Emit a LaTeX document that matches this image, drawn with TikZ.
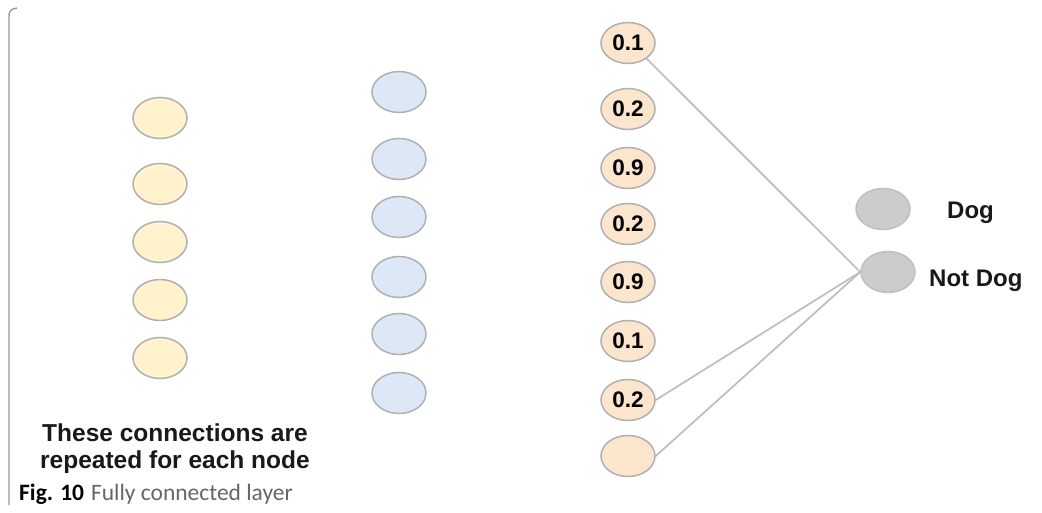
\documentclass[tikz,border=0pt]{standalone}
\usepackage{fontspec}
\setmainfont{Liberation Sans}
\newfontfamily\capfont{Carlito}
\usetikzlibrary{shapes.geometric}
\definecolor{yellowfill}{HTML}{FFF2CC}
\definecolor{bluefill}{HTML}{DCE8F6}
\definecolor{orangefill}{HTML}{FCE5CD}
\definecolor{grayfill}{HTML}{CCCCCC}
\definecolor{rim}{HTML}{B0B0B0}
\definecolor{wire}{HTML}{BDBDBD}
\tikzset{
  neuron/.style={ellipse, draw=rim, line width=1.5pt, minimum width=54pt,
    minimum height=41pt, inner sep=0pt, font=\bfseries\fontsize{22.5}{24}\selectfont},
  inneuron/.style={neuron, fill=yellowfill},
  hidneuron/.style={neuron, fill=bluefill},
  probneuron/.style={neuron, fill=orangefill},
  outneuron/.style={neuron, fill=grayfill, draw=grayfill!80!black!70},
  wirestyle/.style={draw=wire, line width=1.7pt},
  outlabel/.style={anchor=west, inner sep=0pt, font=\bfseries\fontsize{24}{26}\selectfont, text=black!90},
}
\begin{document}
\begin{tikzpicture}[x=1pt,y=-1pt]
\useasboundingbox (0,0) rectangle (1042,513);
\fill[white] (0,0) rectangle (1042,513);

% left bracket
\draw[gray!80, line width=1.4pt] (9,505) -- (9,16) .. controls (9,11) and (11,9) .. (17,8);

% first layer
\foreach \y [count=\i] in {118,184,242,300,358}
  \node[inneuron] (a\i) at (160,\y) {};

% second layer
\foreach \y [count=\i] in {92,159,217,277,334,393}
  \node[hidneuron] (b\i) at (399,\y) {};

% probability layer
\foreach \y/\t [count=\i] in {43/0.1,109/0.2,168/0.9,224/0.2,282/0.9,341/0.1,400/0.2,456/{}}
  \node[probneuron] (c\i) at (628,\y) {\t};

% outputs
\node[outneuron] (dog) at (883,209) {};
\node[outneuron] (notdog) at (888,272) {};
\node[outlabel] (dogtxt) at (947,213) {Dog};
\node[outlabel] (notdogtxt) at (929,281) {Not Dog};

% connections into the second output
\draw[wirestyle] (c1.-40) -- (notdog.west);
\draw[wirestyle] (c7.east) -- (notdog.west);
\draw[wirestyle] (c8.east) -- (notdog.west);

% note and caption
\node[align=center, inner sep=0pt, font=\bfseries\fontsize{24.5}{27}\selectfont, text=black!90] (note) at (175,449)
  {These connections are\\repeated for each node};
\node[anchor=west, inner sep=0pt, font=\capfont\fontsize{23.5}{25}\selectfont] (cap) at (19,494)
  {\textbf{Fig. 10}\hspace{7pt}\textcolor{black!60}{Fully connected layer}};
\end{tikzpicture}
\end{document}
